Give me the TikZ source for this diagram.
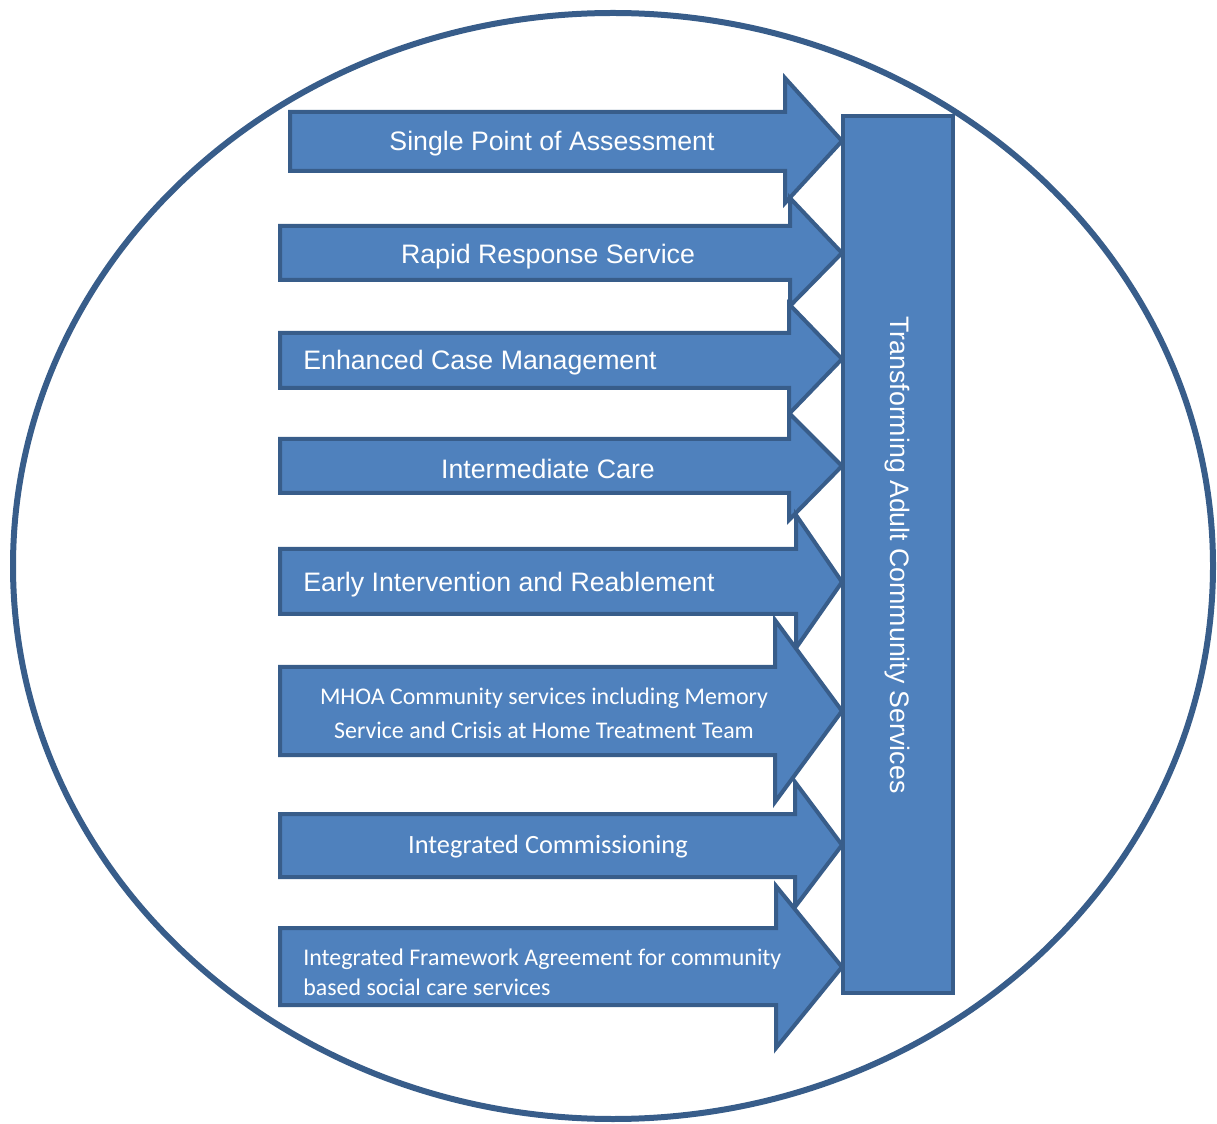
\documentclass[tikz,border=0pt]{standalone}
\usepackage{fontspec}
\setmainfont{Liberation Sans}
\newfontfamily\calibri{Carlito}
\usepackage{tikz}
\definecolor{svcfill}{HTML}{4F81BD}
\definecolor{svcline}{HTML}{385D8A}
\tikzset{
  svcshape/.style={draw=svcline,fill=svcfill,line width=0.08cm,line join=miter},
  svclabel/.style={text=white,inner sep=0pt,font=\fontsize{15.2}{18}\selectfont},
  svcsmall/.style={text=white,inner sep=0pt,font=\calibri\fontsize{13.6}{19.3}\selectfont},
}
% #1 left x, #2 body top, #3 body bottom, #4 head base x, #5 head top, #6 head bottom, #7 tip y
\newcommand{\svcarrow}[7]{%
  \draw[svcshape] (#1,#2) -- (#4,#2) -- (#4,#5) -- (842,#7) -- (#4,#6) -- (#4,#3) -- (#1,#3) -- cycle;}

\begin{document}
\begin{tikzpicture}[x=0.02cm,y=-0.02cm]
\useasboundingbox (0,0) rectangle (1217,1124);

\draw[svcline,line width=0.12cm] (613,566) ellipse [x radius=600,y radius=553];

\svcarrow{290}{112}{171}{785}{78}{203}{141}
\svcarrow{280}{226}{280}{790}{198}{306}{253}
\svcarrow{280}{333}{388}{789}{304}{414}{359}
\svcarrow{280}{439}{493}{789}{413}{520}{466}
\svcarrow{280}{549}{614}{796}{515}{648}{582}
\svcarrow{280}{667}{755}{775}{620}{802}{711}
\svcarrow{280}{814}{877}{795}{782}{907}{845}
\svcarrow{280}{928}{1005}{776}{886}{1048}{967}

\draw[svcshape] (843,116) rectangle (953,993);

\node[svclabel] (spa) at (552,144) {Single Point of Assessment};
\node[svclabel] (rrs) at (548,257) {Rapid Response Service};
\node[svclabel,anchor=west] (ecm) at (303,363) {Enhanced Case Management};
\node[svclabel] (ic) at (548,469) {Intermediate Care};
\node[svclabel,anchor=west] (eir) at (303,585) {Early Intervention and Reablement};
\node[svcsmall,align=center] (mhoa) at (544,713) {MHOA Community services including Memory\\Service and Crisis at Home Treatment Team};
\node[svclabel,font=\calibri\fontsize{15}{18}\selectfont] (icom) at (548,847) {Integrated Commissioning};
\node[svcsmall,align=left,anchor=west,font=\calibri\fontsize{13.6}{17}\selectfont] (ifa) at (303,972) {Integrated Framework Agreement for community\\based social care services};

\node[svclabel,rotate=-90] (tacs) at (897,555) {Transforming Adult Community Services};

\end{tikzpicture}
\end{document}
